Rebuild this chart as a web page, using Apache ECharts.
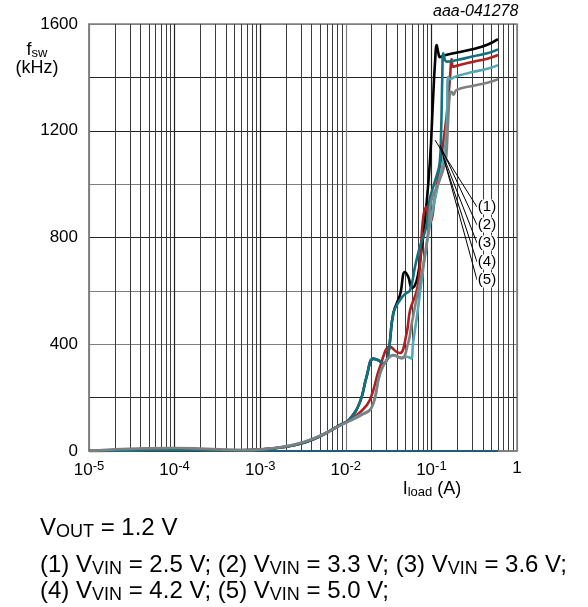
<!DOCTYPE html>
<html>
<head>
<meta charset="utf-8">
<script src="https://cdn.jsdelivr.net/npm/echarts@6/dist/echarts.min.js"></script>
<style>
html,body{margin:0;padding:0;background:#fff;}
#chart{width:588px;height:607px;}
</style>
</head>
<body>
<div id="chart"></div>
<script>
// ---- data (I_load in A, f_sw in kHz) ----
const seriesNames = ['(1) VVIN = 2.5 V', '(2) VVIN = 3.3 V', '(3) VVIN = 3.6 V', '(4) VVIN = 4.2 V', '(5) VVIN = 5.0 V'];
const seriesColors = ['#000000', '#12717f', '#b11f1f', '#52a9b6', '#808080'];
const curve1 = [[1e-5,0],[3e-5,2],[1e-4,4],[3e-4,3],[6e-4,3],[1e-3,5],[2e-3,16],[3.3e-3,32],[5e-3,55],[8.5e-3,97],[0.011,118],[0.0147,185],[0.0175,279],[0.0209,345],[0.024,340],[0.0274,329],[0.031,355],[0.0359,516],[0.043,585],[0.049,671],[0.054,650],[0.059,611],[0.064,620],[0.0697,660],[0.077,760],[0.0843,866],[0.0963,1090],[0.105,1330],[0.11,1450],[0.1153,1521],[0.12,1495],[0.126,1476],[0.14,1482],[0.2,1493],[0.3,1505],[0.45,1522],[0.6,1543]];
const curve2 = [[1e-5,0],[3e-5,2],[1e-4,4],[3e-4,3],[6e-4,3],[1e-3,5],[2e-3,16],[3.3e-3,32],[5e-3,55],[8.5e-3,97],[0.011,118],[0.0147,185],[0.0175,279],[0.0209,347],[0.024,340],[0.0274,329],[0.031,353],[0.0359,516],[0.043,566],[0.05,590],[0.0564,603],[0.0643,690],[0.0733,765],[0.087,840],[0.095,940],[0.11,1010],[0.125,1080],[0.13,1200],[0.134,1400],[0.1377,1490],[0.144,1465],[0.151,1459],[0.2,1465],[0.3,1478],[0.45,1490],[0.6,1505]];
const curve3 = [[1e-5,0],[3e-5,2],[1e-4,4],[3e-4,3],[6e-4,3],[1e-3,5],[2e-3,16],[3.3e-3,33],[5e-3,56],[8.5e-3,96],[0.011,116],[0.0147,145],[0.0191,191],[0.0251,316],[0.0329,391],[0.039,372],[0.043,367],[0.0514,442],[0.0564,528],[0.0677,603],[0.0733,690],[0.0796,866],[0.087,915],[0.092,880],[0.097,860],[0.11,950],[0.13,1100],[0.15,1250],[0.165,1400],[0.1726,1468],[0.179,1440],[0.2,1444],[0.3,1458],[0.45,1470],[0.6,1484]];
const curve4 = [[1e-5,0],[3e-5,3],[1e-4,6],[3e-4,4],[6e-4,3],[1e-3,5],[2e-3,17],[3.3e-3,34],[5e-3,57],[8.5e-3,95],[0.011,114],[0.0147,135],[0.0202,165],[0.0251,290],[0.03,340],[0.0359,358],[0.0447,350],[0.0514,353],[0.058,347],[0.061,404],[0.0677,503],[0.08,680],[0.09,790],[0.1,880],[0.12,1000],[0.14,1100],[0.151,1215],[0.157,1402],[0.165,1393],[0.173,1396],[0.2,1405],[0.3,1420],[0.45,1432],[0.6,1446]];
const curve5 = [[1e-5,0],[2e-5,6],[5e-5,10],[1e-4,11],[2e-4,9],[4e-4,5],[7e-4,4],[1e-3,6],[2e-3,18],[3.3e-3,35],[5e-3,57],[8.5e-3,95],[0.011,112],[0.0147,132],[0.0198,160],[0.0251,291],[0.03,341],[0.0359,360],[0.0447,347],[0.0535,404],[0.058,466],[0.0677,578],[0.0796,690],[0.0913,816],[0.1,940],[0.12,1000],[0.145,1080],[0.151,1128],[0.157,1240],[0.165,1341],[0.1726,1346],[0.18,1335],[0.197,1353],[0.3,1368],[0.45,1380],[0.6,1393]];
const baseline = [[1e-5,0],[0.6,0]];
const curves = [curve1, curve2, curve3, curve4, curve5];
// leader lines: start on curve, end at label
const leaderStart = [[0.1102,1165],[0.1259,1147],[0.1294,1128],[0.1367,1102],[0.1443,1079]];
const leaderEnd = [[0.3412,914],[0.3412,847],[0.3412,779],[0.3412,708],[0.3412,641]];
const labelTexts = ['(1)','(2)','(3)','(4)','(5)'];
const yTickLabels = [0, 400, 800, 1200, 1600];

const chart = echarts.init(document.getElementById('chart'), null, {renderer:'canvas'});
const FONT = 'Liberation Sans, Arial, sans-serif';
const GRAY = '#7f7f7f';

const drawOrder = [0, 2, 3, 1, 4];
const series = [{
  type:'line', name:'baseline', data: baseline, symbol:'none',
  lineStyle:{color:'#1f5d70', width:2}, silent:true, z:3
}];
drawOrder.forEach(function(i){
  series.push({
    type:'line', name: seriesNames[i], data: curves[i], symbol:'none',
    smooth:0.45,
    lineStyle:{color: seriesColors[i], width:2.6}, silent:true, z:4,
    markLine:{
      silent:true, symbol:'none', animation:false,
      lineStyle:{color:'#000', width:1, type:'solid'},
      label:{show:false},
      data:[[{coord: leaderStart[i]}, {coord: leaderEnd[i]}]]
    }
  });
});

const SUB = {fontSize:18, fontFamily:FONT, padding:[9,0,0,0]};
const graphics = [
  {type:'text', left:433, top:4, style:{text:'aaa-041278', font:'italic 16px ' + FONT, fill:'#000'}},
  {type:'text', x:37, y:50, style:{text:'f{sub|sw}', align:'center', verticalAlign:'middle', font:'18px ' + FONT, fill:'#000',
     rich:{sub:{fontSize:13, fontFamily:FONT, verticalAlign:'bottom', padding:[6,0,0,0]}}}},
  {type:'text', x:37, y:68, style:{text:'(kHz)', align:'center', verticalAlign:'middle', font:'18px ' + FONT, fill:'#000'}},
  {type:'text', x:432, y:489, style:{text:'I{sub|load} (A)', align:'center', verticalAlign:'middle', font:'18px ' + FONT, fill:'#000',
     rich:{sub:{fontSize:13, fontFamily:FONT, padding:[7,0,0,0]}}}},
  {type:'text', x:40, y:528, style:{text:'V{sub|OUT} = 1.2 V', verticalAlign:'middle', font:'24px ' + FONT, fill:'#000', rich:{sub:SUB}}},
  {type:'text', x:40, y:565, style:{text:'(1) V{sub|VIN} = 2.5 V; (2) V{sub|VIN} = 3.3 V; (3) V{sub|VIN} = 3.6 V;', verticalAlign:'middle', font:'24px ' + FONT, fill:'#000', rich:{sub:SUB}}},
  {type:'text', x:40, y:591, style:{text:'(4) V{sub|VIN} = 4.2 V; (5) V{sub|VIN} = 5.0 V;', verticalAlign:'middle', font:'24px ' + FONT, fill:'#000', rich:{sub:SUB}}}
];
const labelYs = [207, 225, 243, 262, 280];
labelTexts.forEach(function(t, i){
  graphics.push({type:'text', x:487, y:labelYs[i], z:100,
    style:{text:t, align:'center', verticalAlign:'middle', font:'15px ' + FONT, fill:'#000', backgroundColor:'#fff', padding:[0,1]}});
});

chart.setOption({
  animation:false,
  backgroundColor:'#fff',
  grid:{left:89, right:71, top:24, bottom:156, show:true, borderColor:GRAY, borderWidth:1.5, backgroundColor:'transparent'},
  xAxis:{
    type:'log', logBase:10, min:1e-5, max:1,
    axisLine:{show:true, lineStyle:{color:GRAY, width:1.5}},
    axisTick:{show:false},
    minorTick:{show:false, splitNumber:9},
    splitLine:{show:true, lineStyle:{color:[GRAY,'#222','#222',GRAY,'#222',GRAY], width:1.2}},
    minorSplitLine:{show:true, lineStyle:{color:'#3c3c3c', width:1}},
    axisLabel:{
      margin:9, color:'#000', fontFamily:FONT, fontSize:17,
      formatter:function(v){
        const e = Math.round(Math.log(v)/Math.LN10);
        if (e === 0) return '1';
        return '10{sup|' + e + '}';
      },
      rich:{sup:{fontSize:13, fontFamily:FONT, verticalAlign:'top', padding:[0,0,8,0]}}
    }
  },
  yAxis:{
    type:'value', min:0, max:1600, interval:200,
    axisLine:{show:true, lineStyle:{color:GRAY, width:1.5}},
    axisTick:{show:false},
    splitLine:{show:true, lineStyle:{color:[GRAY,'#222',GRAY,GRAY,'#222',GRAY,'#222','#222',GRAY], width:1.2}},
    axisLabel:{
      margin:11, color:'#000', fontFamily:FONT, fontSize:17,
      formatter:function(v){ return yTickLabels.indexOf(v) >= 0 ? String(v) : ''; }
    }
  },
  graphic: graphics,
  series: series
});
</script>
</body>
</html>
